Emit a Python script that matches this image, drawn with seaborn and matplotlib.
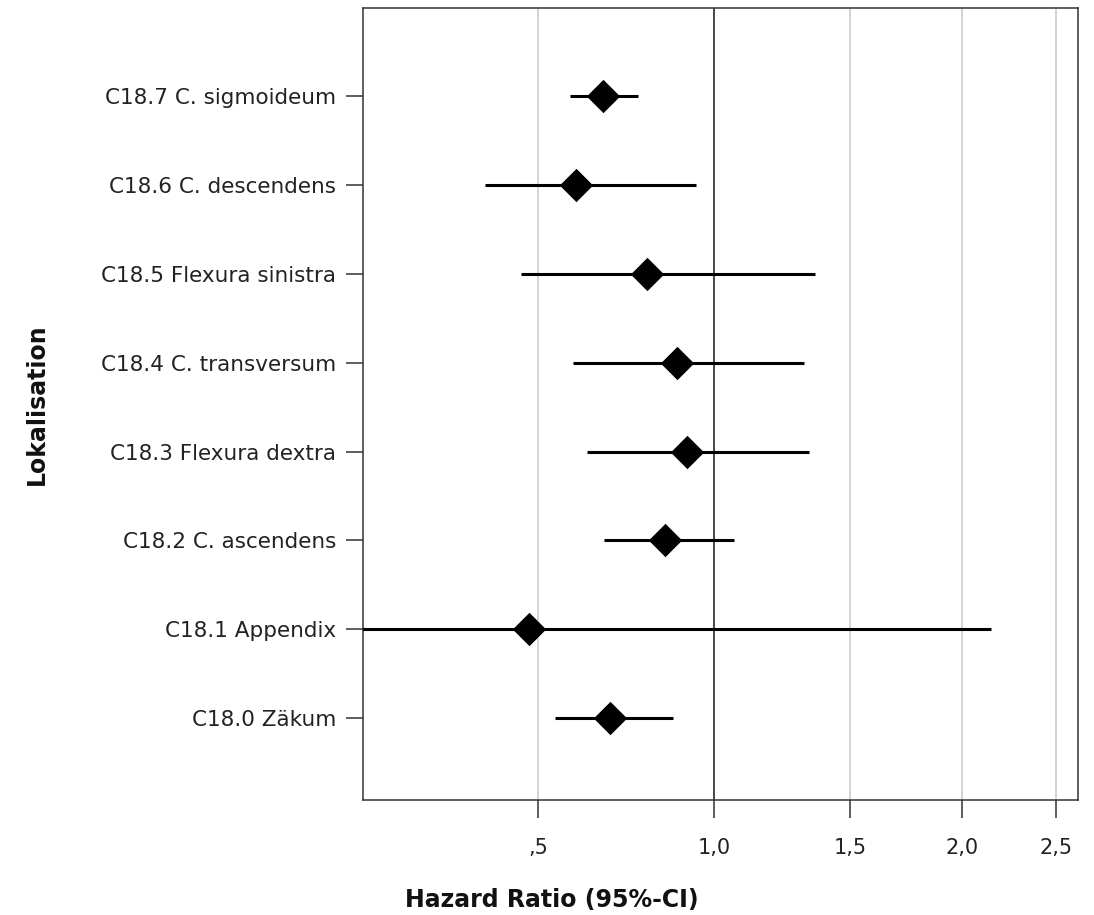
import numpy as np
import pandas as pd
import matplotlib
matplotlib.use("Agg")
import matplotlib.pyplot as plt
import seaborn as sns

labels = ["C18.7 C. sigmoideum", "C18.6 C. descendens", "C18.5 Flexura sinistra",
          "C18.4 C. transversum", "C18.3 Flexura dextra", "C18.2 C. ascendens",
          "C18.1 Appendix", "C18.0 Zäkum"]
hr = [0.667, 0.596, 0.792, 0.882, 0.914, 0.846, 0.478, 0.688]
ci_low = [0.581, 0.376, 0.459, 0.588, 0.625, 0.671, 0.12, 0.542]
ci_high = [0.766, 0.942, 1.359, 1.317, 1.336, 1.067, 2.146, 0.869]
xticks = [0.5, 1.0, 1.5, 2.0, 2.5]
xtick_labels = [",5", "1,0", "1,5", "2,0", "2,5"]

sns.set_theme(style="white")
plt.rcParams['font.family'] = ['DejaVu Sans']

df = pd.DataFrame({"Lokalisation": labels, "hr": hr, "lo": ci_low, "hi": ci_high})

fig = plt.figure(figsize=(10.94, 9.15), dpi=100)
ax = fig.add_axes([363 / 1094, 115 / 915, (1077.5 - 363) / 1094, (800 - 8) / 915])

sns.scatterplot(data=df, x="hr", y="Lokalisation", marker="D", s=17 ** 2,
                color="black", edgecolor="black", linewidth=0, zorder=4, ax=ax)
ax.hlines(y=df["Lokalisation"], xmin=df["lo"], xmax=df["hi"], color="black",
          lw=2.2, zorder=3)

ax.set_xscale("function", functions=(np.log1p, np.expm1))
ax.set_xlim(0.127, 2.623)
ax.set_ylim(7.92, -0.99)
ax.set_xticks(xticks)
ax.set_xticklabels(xtick_labels)

ax.grid(False)
ax.xaxis.grid(True, color="#c8c8c8", lw=1.1)
ax.set_axisbelow(True)
ax.axvline(1.0, color="#222222", lw=1.1, zorder=2)

for sp in ax.spines.values():
    sp.set_visible(True)
    sp.set_color("#333333")
    sp.set_linewidth(1.1)

ax.tick_params(axis="y", left=True, length=12.5, width=1.1, color="#333333",
               pad=7, labelsize=15.5, labelcolor="#222222")
ax.tick_params(axis="x", bottom=True, length=12.7, width=1.1, color="#333333",
               pad=15, labelsize=15, labelcolor="#222222")

ax.set_xlabel("Hazard Ratio (95%-CI)", fontsize=17, fontweight="bold", color="#111111")
ax.set_ylabel("Lokalisation", fontsize=17, fontweight="bold", color="#111111")
ax.xaxis.set_label_coords(0.2645, -0.111)
ax.yaxis.set_label_coords(-0.44, 0.5)

fig.savefig("out.png", dpi=100, facecolor="white")
